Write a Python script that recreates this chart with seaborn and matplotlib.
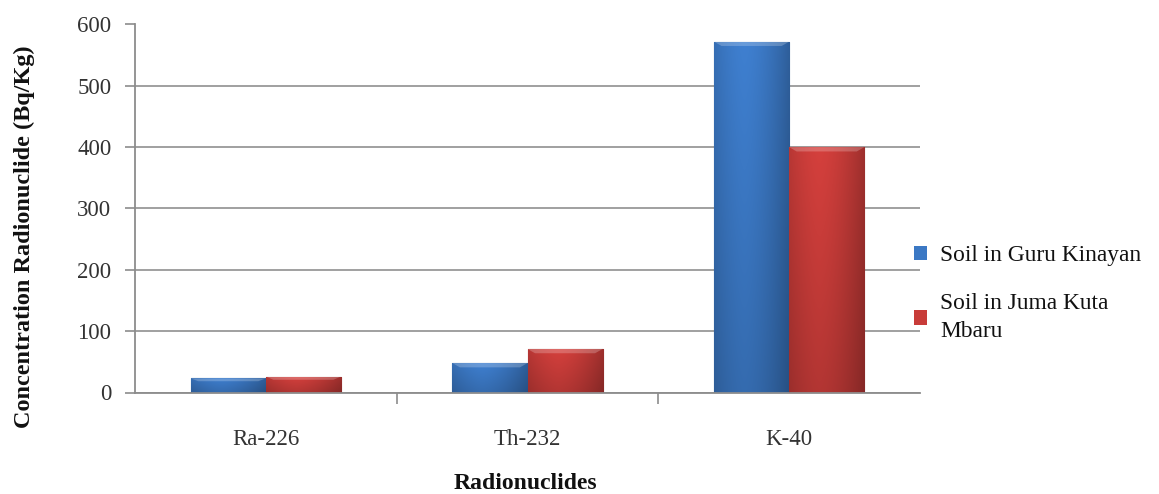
import numpy as np
import pandas as pd
import matplotlib
matplotlib.use("Agg")
import matplotlib.pyplot as plt
import seaborn as sns

# Radionuclide activity concentrations (Bq/Kg)
nuclides = ["Ra-226", "Th-232", "K-40"]
guru_kinayan = [23, 48, 572]
juma_kuta_mbaru = [26, 71, 400]
series_names = ["Soil in Guru Kinayan", "Soil in Juma Kuta\nMbaru"]
y_ticks = [0, 100, 200, 300, 400, 500, 600]

df = pd.DataFrame({
    "Radionuclides": nuclides * 2,
    "Concentration": guru_kinayan + juma_kuta_mbaru,
    "Site": [series_names[0]] * 3 + [series_names[1]] * 3,
})

sns.set_theme(style="white")
plt.rcParams["font.family"] = ["Liberation Serif", "DejaVu Serif"]

W, H = 1159, 494
fig = plt.figure(figsize=(W / 100, H / 100), dpi=100)
ax = fig.add_axes([135 / W, 1 - 392.5 / H, (920 - 135) / W, (392.5 - 24.5) / H])

palette = {series_names[0]: "#3b78c4", series_names[1]: "#c83c39"}
edges = {series_names[0]: "#1f4f8a", series_names[1]: "#7d1f1d"}
sns.barplot(data=df, x="Radionuclides", y="Concentration", hue="Site",
            palette=palette, width=0.574, ax=ax, legend=True,
            linewidth=0, saturation=1)

# bevelled shading on each bar
def shade(patch, base):
    x0, y0 = patch.get_x(), patch.get_y()
    w, h = patch.get_width(), patch.get_height()
    rgb = np.array(matplotlib.colors.to_rgb(base))
    cols = np.linspace(0, 1, 64)
    horiz = 1.04 - 0.3 * np.abs(cols - 0.4) ** 1.6 * 2
    img = np.ones((64, 64, 3)) * rgb
    img = img * horiz[None, :, None]
    rows = np.linspace(0, 1, 64)
    vert = 1.02 - 0.16 * rows
    img = img * vert[:, None, None]
    img = np.clip(img, 0, 1)
    im = ax.imshow(img, extent=[x0, x0 + w, y0, y0 + h], origin="upper",
                   aspect="auto", zorder=patch.get_zorder() + 0.1, interpolation="bilinear")
    im.set_clip_path(patch)
    # light top bevel
    band = min(h * 0.2, 7)
    ax.fill([x0, x0 + w, x0 + w * 0.9, x0 + w * 0.1],
            [y0 + h, y0 + h, y0 + h - band, y0 + h - band],
            color="white", alpha=0.22, lw=0, zorder=patch.get_zorder() + 0.2)

bar_patches = [p for p in ax.patches if p.get_height() > 0]
for i, p in enumerate(bar_patches):
    site = series_names[i // 3]
    p.set_edgecolor(edges[site])
    p.set_linewidth(0.8)
    shade(p, palette[site])

ax.set_ylim(0, 600)
ax.set_xlim(-0.5, 2.5)
ax.set_yticks(y_ticks)
ax.yaxis.grid(True, color="#a0a0a0", linewidth=1.4)
ax.set_axisbelow(True)

for s in ["top", "right"]:
    ax.spines[s].set_visible(False)
for s in ["left", "bottom"]:
    ax.spines[s].set_color("#8c8c8c")
    ax.spines[s].set_linewidth(1.3)

ax.tick_params(axis="y", which="major", length=7, width=1.2, color="#8c8c8c",
               labelsize=16.5, labelcolor="#333333", pad=10, left=True)
ax.tick_params(axis="x", which="major", length=0, labelsize=16.5,
               labelcolor="#333333", pad=26)
ax.set_xticks([0.5, 1.5], minor=True)
ax.tick_params(axis="x", which="minor", length=8, width=1.2, color="#8c8c8c", bottom=True)

ax.set_xlabel("")
ax.set_ylabel("")
fig.text(525 / W, 1 - 483 / H, "Radionuclides", fontsize=17, fontweight="bold",
         ha="center", va="center", color="#111111")
fig.text(24 / W, 1 - 237 / H, "Concentration Radionuclide (Bq/Kg)", fontsize=17.5,
         fontweight="bold", rotation=90, ha="center", va="center", color="#111111")

handles, labels = ax.get_legend_handles_labels()
ax.get_legend().remove()
leg = fig.legend(handles, labels, loc="upper left", bbox_to_anchor=(905 / W, 1 - 236 / H),
                 frameon=False, fontsize=16.8, handlelength=0.55, handleheight=0.55,
                 handletextpad=0.55, labelspacing=1.15, borderaxespad=0)
for t in leg.get_texts():
    t.set_linespacing(1.45)
    t.set_color("#111111")

fig.savefig("out.png", dpi=100)
